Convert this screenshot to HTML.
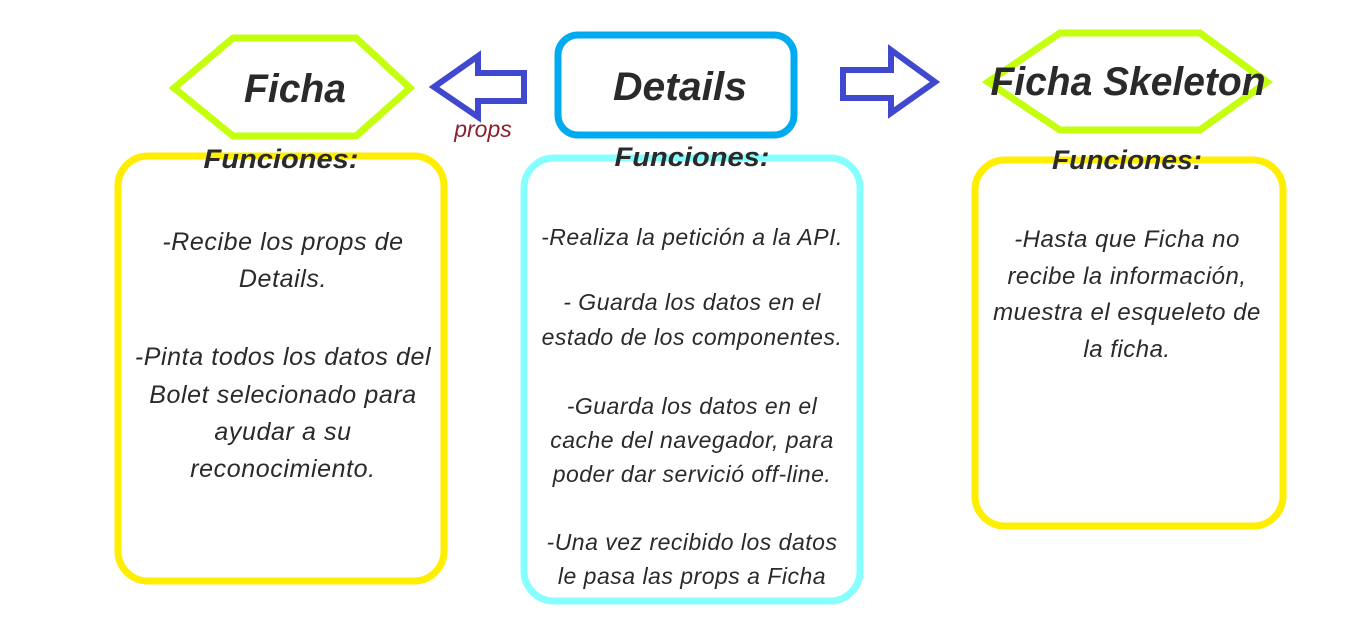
<!DOCTYPE html>
<html><head><meta charset="utf-8"><style>
html,body{margin:0;padding:0;background:#fff;}
svg{display:block;}
text{font-family:"Liberation Sans",sans-serif;font-style:italic;fill:#2a2a2a;}
.t{font-weight:bold;font-size:40px;}
.f{font-weight:bold;font-size:27px;}
.b1{font-size:25px;letter-spacing:0.6px;}
.b2{font-size:23px;letter-spacing:0.5px;}
.b3{font-size:24px;letter-spacing:0.5px;}
</style></head><body>
<svg width="1350" height="629" viewBox="0 0 1350 629">
<polygon points="174,88 233,38 356,38 410,88 356,136 233,136" fill="none" stroke="#c4ff0e" stroke-width="7"/>
<polygon points="988,82 1060,33 1200,33 1267,82 1200,130 1060,130" fill="none" stroke="#c4ff0e" stroke-width="7"/>
<rect x="558" y="35" width="236" height="100" rx="20" fill="none" stroke="#00aaee" stroke-width="7"/>
<polygon points="434,87 478,56 478,73 524,73 524,101 478,101 478,117" fill="none" stroke="#4048d0" stroke-width="6"/>
<polygon points="843,70 891,70 891,50 935,82 891,113 891,98 843,98" fill="none" stroke="#4048d0" stroke-width="6"/>
<rect x="118" y="156" width="326" height="425" rx="30" fill="none" stroke="#ffee00" stroke-width="7"/>
<rect x="524" y="158" width="336" height="443" rx="30" fill="none" stroke="#88ffff" stroke-width="7"/>
<rect x="975" y="160" width="308" height="366" rx="30" fill="none" stroke="#ffee00" stroke-width="7"/>

<text class="t" x="295" y="102" text-anchor="middle" textLength="102" lengthAdjust="spacingAndGlyphs">Ficha</text>
<text class="t" x="680" y="100" text-anchor="middle" textLength="134" lengthAdjust="spacingAndGlyphs">Details</text>
<text class="t" x="1128" y="95" text-anchor="middle" textLength="275" lengthAdjust="spacingAndGlyphs">Ficha Skeleton</text>
<text x="483" y="137" text-anchor="middle" style="font-size:23px;fill:#8a2030">props</text>

<text class="f" x="281" y="168" text-anchor="middle" textLength="155" lengthAdjust="spacingAndGlyphs">Funciones:</text>
<text class="f" x="692" y="166" text-anchor="middle" textLength="155" lengthAdjust="spacingAndGlyphs">Funciones:</text>
<text class="f" x="1127" y="169" text-anchor="middle" textLength="150" lengthAdjust="spacingAndGlyphs">Funciones:</text>

<g text-anchor="middle">
<text class="b1" x="283" y="250">-Recibe los props de</text>
<text class="b1" x="283" y="287">Details.</text>
<text class="b1" x="283" y="365">-Pinta todos los datos del</text>
<text class="b1" x="283" y="403">Bolet selecionado para</text>
<text class="b1" x="283" y="440">ayudar a su</text>
<text class="b1" x="283" y="477">reconocimiento.</text>
</g>
<g text-anchor="middle">
<text class="b2" x="692" y="245">-Realiza la petición a la API.</text>
<text class="b2" x="692" y="310">- Guarda los datos en el</text>
<text class="b2" x="692" y="345">estado de los componentes.</text>
<text class="b2" x="692" y="414">-Guarda los datos en el</text>
<text class="b2" x="692" y="448">cache del navegador, para</text>
<text class="b2" x="692" y="482">poder dar servició  off-line.</text>
<text class="b2" x="692" y="550">-Una vez recibido los datos</text>
<text class="b2" x="692" y="584">le pasa las props a Ficha</text>
</g>
<g text-anchor="middle">
<text class="b3" x="1127" y="247">-Hasta que Ficha no</text>
<text class="b3" x="1127" y="284">recibe la información,</text>
<text class="b3" x="1127" y="320">muestra el esqueleto de</text>
<text class="b3" x="1127" y="357">la ficha.</text>
</g>
</svg>
</body></html>
